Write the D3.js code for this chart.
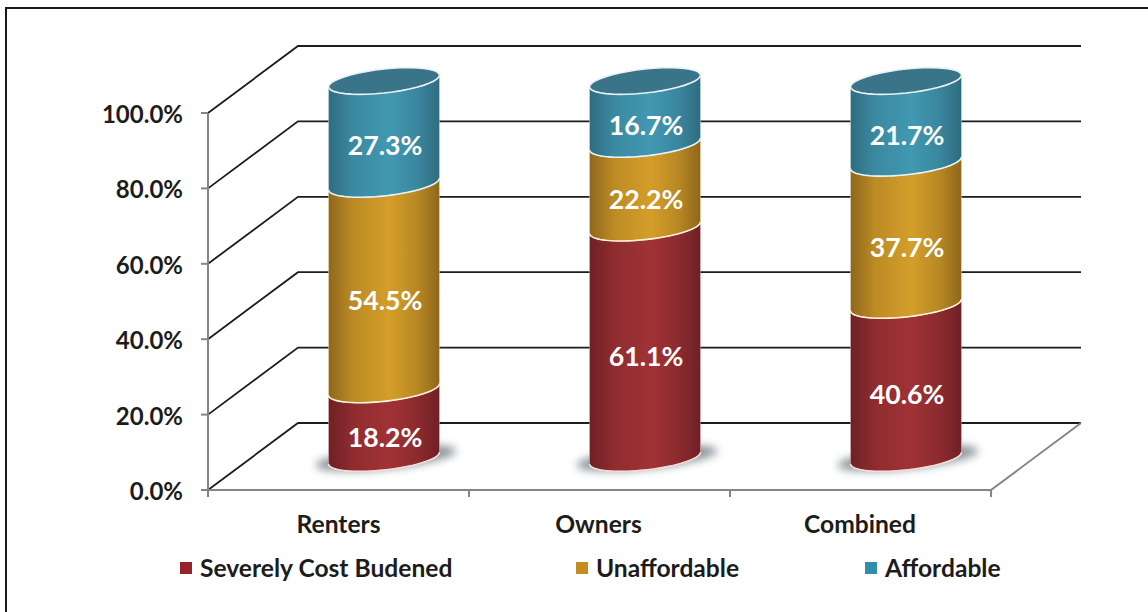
<!DOCTYPE html>
<html><head><meta charset="utf-8">
<script src="https://cdn.jsdelivr.net/npm/d3@7"></script>
<style>
html,body{margin:0;padding:0;background:#fff}
svg{display:block}
text{font-family:Lato,"Open Sans",sans-serif;font-weight:700}
</style></head><body><svg id="c" width="1148" height="612"></svg>
<script>
const categories = ["Renters","Owners","Combined"];
const seriesNames = ["Severely Cost Budened","Unaffordable","Affordable"];
const severe = [18.2,61.1,40.6];
const unaffordable = [54.5,22.2,37.7];
const affordable = [27.3,16.7,21.7];
const tickValues = [0,20,40,60,80,100];
const seriesColors = [
  {edge:"#6e2026",mid:"#a03235",key:"#96232a",line:"#f6dcd8"},
  {edge:"#8f671c",mid:"#d49e2a",key:"#c58d1f",line:"#fdf3dc"},
  {edge:"#2f6c80",mid:"#4298b2",key:"#328fac",line:"#e6f3f7"}
];
const topEllipse = "#3a7488";
const depth = {x:90,y:-67};

const svg = d3.select("#c");
const y = d3.scaleLinear().domain([0,100]).range([490,113]);
const x = d3.scaleBand().domain(categories).range([208,991]);
// bars stand inside the depth of the box, so they use the same slope with an offset
const barY = d3.scaleLinear().domain([0,100]).range([458,81]);
const barHalf = 55.5, ry = 12, skew = 0.105;
const barCx = c => x(c)+x.bandwidth()/2+45.5;

const defs = svg.append("defs");
seriesColors.forEach((c,i)=>{
  const g = defs.append("linearGradient").attr("id","g"+i).attr("x1",0).attr("x2",1).attr("y1",0).attr("y2",0);
  [[0,c.edge],[.22,d3.interpolateRgb(c.edge,c.mid)(.65)],[.55,c.mid],[.8,d3.interpolateRgb(c.edge,c.mid)(.6)],[1,c.edge]]
    .forEach(s=>g.append("stop").attr("offset",s[0]).attr("stop-color",s[1]));
});
defs.append("filter").attr("id","blur").attr("x","-30%").attr("y","-60%").attr("width","160%").attr("height","220%")
  .append("feGaussianBlur").attr("stdDeviation",4.5);
defs.append("filter").attr("id","soft").attr("x","-5%").attr("y","-5%").attr("width","110%").attr("height","110%")
  .append("feGaussianBlur").attr("stdDeviation",0.45);

// outer frame: only the left and top edges show
svg.append("path").attr("fill","none").attr("stroke","#1a1a1a").attr("stroke-width",2)
  .attr("d","M6,612V8H1148");

// grid
const grid = svg.append("g").attr("filter","url(#soft)");
tickValues.forEach(v=>{
  grid.append("path").attr("fill","none").attr("stroke","#1c1c1c").attr("stroke-width",1.8)
    .attr("d",d3.line()([[208,y(v)],[208+depth.x,y(v)+depth.y],[991+depth.x,y(v)+depth.y]]));
});
// axes
const ax = svg.append("g").attr("filter","url(#soft)").attr("fill","none").attr("stroke","#858585").attr("stroke-width",2);
ax.append("path").attr("d",d3.line()([[208,y(100)],[208,y(0)],[991,y(0)],[991+depth.x,y(0)+depth.y]]));
tickValues.forEach(v=>ax.append("path").attr("d",d3.line()([[201,y(v)],[208,y(v)]])));
d3.range(categories.length+1).forEach(i=>{
  const px = 208+i*x.bandwidth();
  ax.append("path").attr("d",d3.line()([[px,y(0)],[px,y(0)+7]]));
});

// tick labels
svg.append("g").selectAll("text").data(tickValues).join("text")
  .attr("x",183).attr("y",d=>y(d)+10).attr("text-anchor","end").attr("font-size",24).attr("fill","#1c1c1c")
  .text(d=>d.toFixed(1)+"%");
svg.append("g").selectAll("text").data(categories).join("text")
  .attr("x",(d,i)=>[338.5,598.5,860][i]).attr("y",533).attr("text-anchor","middle").attr("font-size",24.6).attr("fill","#1c1c1c")
  .text(d=>d);

// bars
const arc = (cx,cy,from,to) => d3.range(0,41).map(k=>{
  const t = from+(to-from)*k/40;
  return [cx+barHalf*Math.cos(t), cy+ry*Math.sin(t)-skew*barHalf*Math.cos(t)];
});
const line = d3.line();
categories.forEach((c,i)=>{
  const cx = barCx(c);
  const vals = [severe[i],unaffordable[i],affordable[i]];
  svg.append("ellipse").attr("cx",cx+2).attr("cy",barY(0)).attr("rx",barHalf+15).attr("ry",ry-1)
    .attr("transform",`rotate(-6 ${cx+2} ${barY(0)})`)
    .attr("fill","#6f7d84").attr("opacity",.8).attr("filter","url(#blur)");
  let acc = 0;
  vals.forEach((v,s)=>{
    const y0 = barY(acc), y1 = barY(acc+v);
    const pts = arc(cx,y1,Math.PI,0).concat(arc(cx,y0,0,Math.PI));
    svg.append("path").attr("d",line(pts)+"Z").attr("fill",`url(#g${s})`)
      .attr("stroke",seriesColors[s].line).attr("stroke-opacity",.45).attr("stroke-width",.8);
    svg.append("path").attr("d",line(arc(cx,y0,0,Math.PI))).attr("fill","none")
      .attr("stroke",seriesColors[s].line).attr("stroke-width",1.6);
    acc += v;
  });
  // top cap
  svg.append("path").attr("d",line(arc(cx,barY(acc),0,2*Math.PI))+"Z")
    .attr("fill",topEllipse).attr("stroke","#e8f2f5").attr("stroke-width",1.6);
  // labels
  acc = 0;
  vals.forEach((v)=>{
    svg.append("text").attr("x",cx+1).attr("y",barY(acc+v/2)+23).attr("text-anchor","middle")
      .attr("font-size",26.7).attr("fill","#fff").text(v.toFixed(1)+"%");
    acc += v;
  });
});

// legend
const legendX = [180,576,865], legendText=[200,596,885];
seriesNames.forEach((n,i)=>{
  svg.append("rect").attr("x",legendX[i]).attr("y",562).attr("width",12).attr("height",12).attr("fill",seriesColors[i].key);
  svg.append("text").attr("x",legendText[i]).attr("y",577).attr("font-size",24.6).attr("fill","#1c1c1c").text(n);
});
</script></body></html>
